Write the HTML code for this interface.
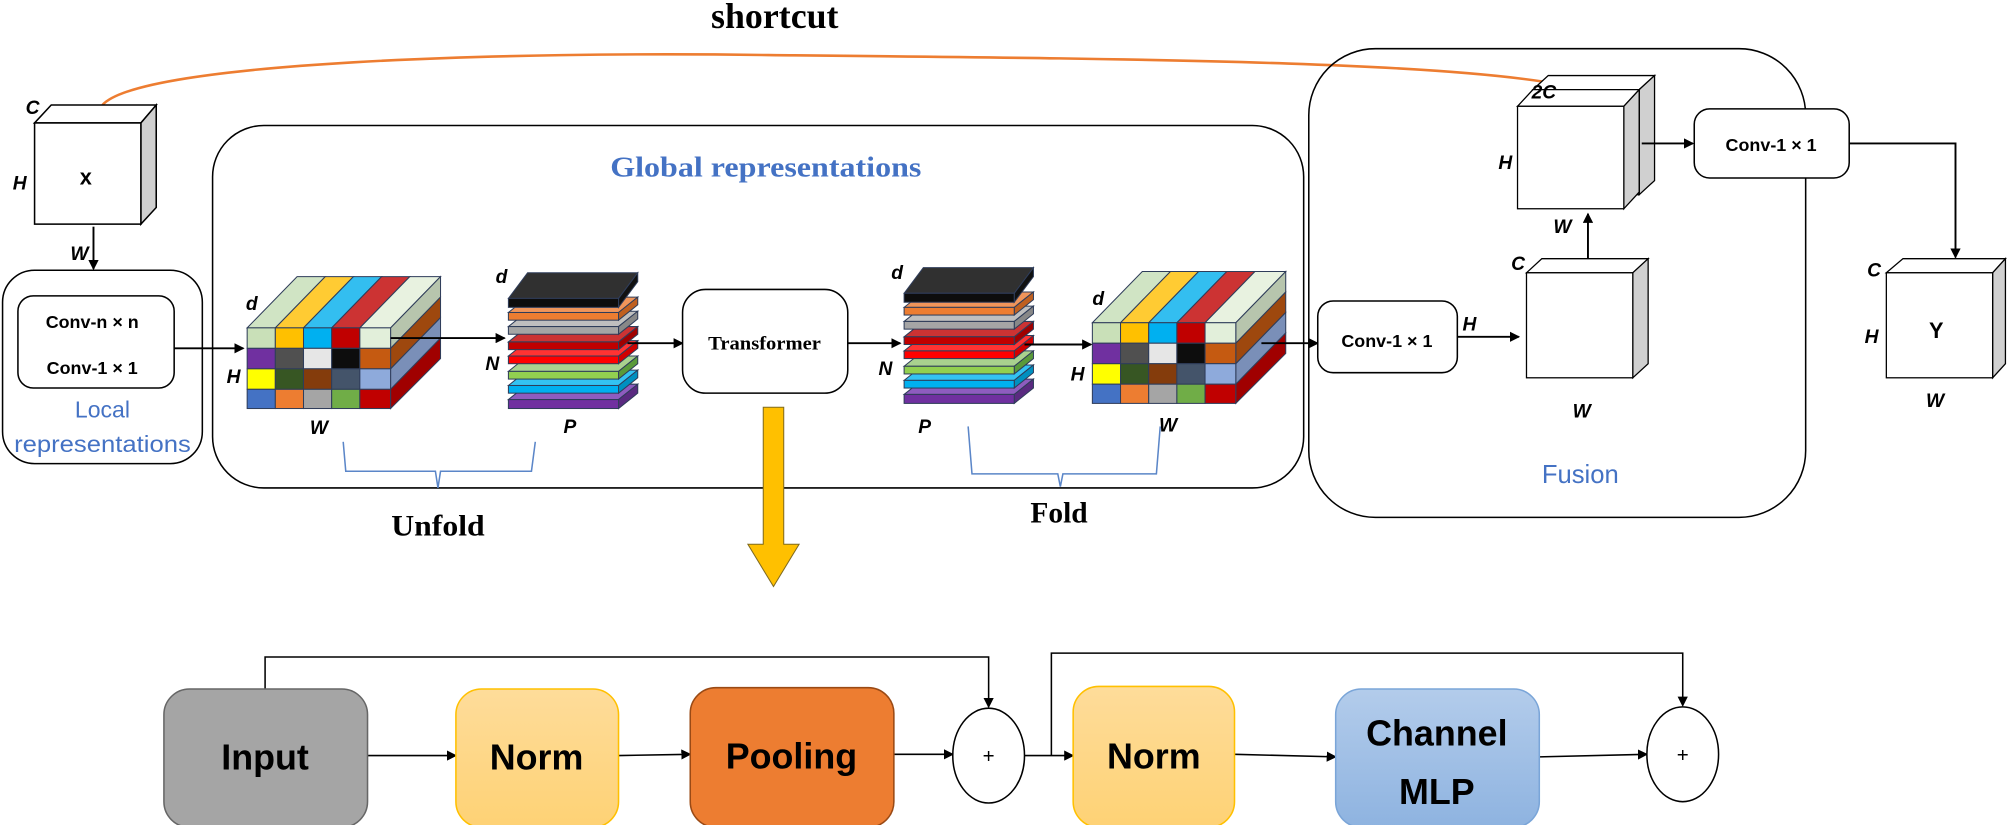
<!DOCTYPE html>
<html><head><meta charset="utf-8"><style>
html,body{margin:0;padding:0;background:#fff;width:2008px;height:825px;overflow:hidden}
svg{display:block}
.s{font-family:"Liberation Sans",sans-serif;font-weight:bold}
.i{font-family:"Liberation Sans",sans-serif;font-weight:bold;font-style:italic;font-size:15px}
.r{font-family:"Liberation Serif",serif;font-weight:bold}
</style></head><body>
<svg width="2008" height="825" viewBox="0 0 1568 644.2" xmlns="http://www.w3.org/2000/svg">
<defs>
<marker id="a" markerWidth="8" markerHeight="8" refX="7" refY="4" orient="auto" markerUnits="userSpaceOnUse"><path d="M0,0 L8,4 L0,8 z" fill="#000"/></marker>
<marker id="ao" markerWidth="10" markerHeight="10" refX="9" refY="5" orient="auto" markerUnits="userSpaceOnUse"><path d="M0,0 L10,5 L0,10 z" fill="#ed7d31"/></marker>
<linearGradient id="gy" x1="0" y1="0" x2="0" y2="1"><stop offset="0" stop-color="#fedc9a"/><stop offset="1" stop-color="#fed275"/></linearGradient>
<linearGradient id="gb" x1="0" y1="0" x2="0" y2="1"><stop offset="0" stop-color="#b3cceb"/><stop offset="1" stop-color="#8eb3e0"/></linearGradient>
</defs>

<text x="605" y="22" class="r" font-size="28" text-anchor="middle">shortcut</text>
<path d="M80,82 C110,48 400,40 600,43 C900,46 1150,48 1238,70" fill="none" stroke="#ed7d31" stroke-width="2" marker-end="url(#ao)"/>

<!-- X cube -->
<g stroke="#000" stroke-width="1.2">
<polygon points="27,96 40,82 122,82 110,96" fill="#fff"/>
<polygon points="110,96 122,82 122,162 110,175" fill="#d0d0d0"/>
<rect x="27" y="96" width="83" height="79" fill="#fff"/>
</g>
<text x="67" y="144" class="s" font-size="17" text-anchor="middle">x</text>
<text x="20" y="89" class="i">C</text>
<text x="10" y="148" class="i">H</text>
<text x="55" y="203" class="i">W</text>
<line x1="73" y1="177" x2="73" y2="210" stroke="#000" stroke-width="1.5" marker-end="url(#a)"/>

<!-- Local -->
<rect x="2" y="211" width="156" height="151" rx="25" fill="none" stroke="#000" stroke-width="1.2"/>
<rect x="14" y="231" width="122" height="72" rx="12" fill="none" stroke="#000" stroke-width="1.2"/>
<text x="72" y="256" class="s" font-size="14" text-anchor="middle">Conv-n × n</text>
<text x="72" y="292" class="s" font-size="14" text-anchor="middle">Conv-1 × 1</text>
<text x="80" y="326" font-family="Liberation Sans,sans-serif" font-size="18" fill="#4472c4" text-anchor="middle">Local</text>
<text x="80" y="353" font-family="Liberation Sans,sans-serif" font-size="18" fill="#4472c4" text-anchor="middle" textLength="138" lengthAdjust="spacingAndGlyphs">representations</text>
<line x1="136" y1="272" x2="190" y2="272" stroke="#000" stroke-width="1.5" marker-end="url(#a)"/>

<!-- Global -->
<rect x="166" y="98" width="852" height="283" rx="40" fill="none" stroke="#000" stroke-width="1.2"/>
<text x="598" y="138" class="r" font-size="22" fill="#4472c4" text-anchor="middle" textLength="243" lengthAdjust="spacingAndGlyphs">Global representations</text>

<g id="cube1" stroke="#2f3d5a" stroke-width="0.8">
<polygon points="193,256 232,216 254,216 215,256" fill="#d0e4c4"/>
<polygon points="215,256 254,216 276,216 237,256" fill="#ffcb33"/>
<polygon points="237,256 276,216 298,216 259,256" fill="#33bef0"/>
<polygon points="259,256 298,216 320,216 281,256" fill="#cc3333"/>
<polygon points="281,256 320,216 344,216 305,256" fill="#e8f2e0"/>
<polygon points="305,256 344,216 344,232 305,272" fill="#b7c5ad"/>
<polygon points="305,272 344,232 344,248 305,288" fill="#9e480e"/>
<polygon points="305,288 344,248 344,264 305,304" fill="#7a8fb8"/>
<polygon points="305,304 344,264 344,280 305,319" fill="#a00000"/>
<rect x="193" y="256" width="22" height="16" fill="#c9e0b8"/><rect x="215" y="256" width="22" height="16" fill="#ffc000"/><rect x="237" y="256" width="22" height="16" fill="#00b0f0"/><rect x="259" y="256" width="22" height="16" fill="#c00000"/><rect x="281" y="256" width="24" height="16" fill="#e2efda"/>
<rect x="193" y="272" width="22" height="16" fill="#7030a0"/><rect x="215" y="272" width="22" height="16" fill="#505050"/><rect x="237" y="272" width="22" height="16" fill="#e6e6e6"/><rect x="259" y="272" width="22" height="16" fill="#0d0d0d"/><rect x="281" y="272" width="24" height="16" fill="#c55a11"/>
<rect x="193" y="288" width="22" height="16" fill="#ffff00"/><rect x="215" y="288" width="22" height="16" fill="#375623"/><rect x="237" y="288" width="22" height="16" fill="#843c0c"/><rect x="259" y="288" width="22" height="16" fill="#44546a"/><rect x="281" y="288" width="24" height="16" fill="#8eaadb"/>
<rect x="193" y="304" width="22" height="15" fill="#4472c4"/><rect x="215" y="304" width="22" height="15" fill="#ed7d31"/><rect x="237" y="304" width="22" height="15" fill="#a5a5a5"/><rect x="259" y="304" width="22" height="15" fill="#70ad47"/><rect x="281" y="304" width="24" height="15" fill="#c00000"/>
</g>
<use href="#cube1" transform="translate(660,-4)"/>
<text x="192" y="242" class="i">d</text><text x="177" y="299" class="i">H</text><text x="242" y="339" class="i">W</text>
<text x="853" y="238" class="i">d</text><text x="836" y="297" class="i">H</text><text x="905" y="337" class="i">W</text>

<g id="stk" stroke="#2f3d5a" stroke-width="0.8">
<polygon points="397,312 412,300 498,300 483,312" fill="#8e5cbf"/><polygon points="483,312 498,300 498,307 483,319" fill="#5a2a80"/><rect x="397" y="312" width="86" height="7" fill="#7030a0"/>
<polygon points="397,301 412,289 498,289 483,301" fill="#33c3f3"/><polygon points="483,301 498,289 498,295 483,307" fill="#0090c0"/><rect x="397" y="301" width="86" height="6" fill="#00b0f0"/>
<polygon points="397,290 412,278 498,278 483,290" fill="#a9d18e"/><polygon points="483,290 498,278 498,284 483,296" fill="#5a9a3a"/><rect x="397" y="290" width="86" height="6" fill="#92d050"/>
<polygon points="397,278 412,266 498,266 483,278" fill="#ff3333"/><polygon points="483,278 498,266 498,272 483,284" fill="#d00000"/><rect x="397" y="278" width="86" height="6" fill="#ff0000"/>
<polygon points="397,267 412,255 498,255 483,267" fill="#cc3333"/><polygon points="483,267 498,255 498,261 483,273" fill="#a00000"/><rect x="397" y="267" width="86" height="6" fill="#c00000"/>
<polygon points="397,255 412,243 498,243 483,255" fill="#bfbfbf"/><polygon points="483,255 498,243 498,249 483,261" fill="#888"/><rect x="397" y="255" width="86" height="6" fill="#a5a5a5"/>
<polygon points="397,244 412,232 498,232 483,244" fill="#f0955a"/><polygon points="483,244 498,232 498,238 483,250" fill="#c06020"/><rect x="397" y="244" width="86" height="6" fill="#ed7d31"/>
<polygon points="397,233 412,213 498,213 483,233" fill="#303030"/><polygon points="483,233 498,213 498,220 483,240" fill="#111"/><rect x="397" y="233" width="86" height="7" fill="#0d0d0d"/>
</g>
<use href="#stk" transform="translate(309,-4)"/>
<text x="387" y="221" class="i">d</text><text x="379" y="289" class="i">N</text><text x="440" y="338" class="i">P</text>
<text x="696" y="218" class="i">d</text><text x="686" y="293" class="i">N</text><text x="717" y="338" class="i">P</text>

<g stroke="#000" stroke-width="1.5" fill="none">
<line x1="305" y1="264" x2="394" y2="264" marker-end="url(#a)"/>
<line x1="490" y1="268" x2="533" y2="268" marker-end="url(#a)"/>
<line x1="662" y1="268" x2="703" y2="268" marker-end="url(#a)"/>
<line x1="800" y1="269" x2="852" y2="269" marker-end="url(#a)"/>
<line x1="985" y1="268" x2="1029" y2="268" marker-end="url(#a)"/>
</g>
<rect x="533" y="226" width="129" height="81" rx="18" fill="#fff" stroke="#000" stroke-width="1.2"/>
<text x="597" y="273" class="r" font-size="15" text-anchor="middle" textLength="88" lengthAdjust="spacingAndGlyphs">Transformer</text>

<path d="M268,345 L270,368 L340,368 L342,381 L344,368 L415,368 L418,345" fill="none" stroke="#5b86c8" stroke-width="1.2"/>
<path d="M756,333 L759,370 L826,370 L828,380 L830,370 L903,370 L906,333" fill="none" stroke="#5b86c8" stroke-width="1.2"/>
<text x="342" y="418" class="r" font-size="23" text-anchor="middle" textLength="73" lengthAdjust="spacingAndGlyphs">Unfold</text>
<text x="827" y="408" class="r" font-size="23" text-anchor="middle">Fold</text>

<polygon points="596,318 612,318 612,425 624,425 604,458 584,425 596,425" fill="#ffc000" stroke="#7f6a20" stroke-width="0.8"/>

<!-- Fusion -->
<rect x="1022" y="38" width="388" height="366" rx="52" fill="none" stroke="#000" stroke-width="1.2"/>
<text x="1234" y="377" font-family="Liberation Sans,sans-serif" font-size="20" fill="#4472c4" text-anchor="middle">Fusion</text>
<rect x="1029" y="235" width="109" height="56" rx="12" fill="#fff" stroke="#000" stroke-width="1.2"/>
<text x="1083" y="271" class="s" font-size="14" text-anchor="middle">Conv-1 × 1</text>
<line x1="1138" y1="263" x2="1186" y2="263" stroke="#000" stroke-width="1.5" marker-end="url(#a)"/>
<text x="1142" y="258" class="i">H</text>
<g stroke="#000" stroke-width="1">
<polygon points="1192,213 1204,202 1287,202 1275,213" fill="#fff"/>
<polygon points="1275,213 1287,202 1287,284 1275,295" fill="#d0d0d0"/>
<rect x="1192" y="213" width="83" height="82" fill="#fff"/>
</g>
<text x="1180" y="211" class="i">C</text><text x="1228" y="326" class="i">W</text>
<line x1="1240" y1="202" x2="1240" y2="167" stroke="#000" stroke-width="1.5" marker-end="url(#a)"/>
<g stroke="#000" stroke-width="1">
<polygon points="1197,70 1209,59 1292,59 1280,70" fill="#fff"/>
<polygon points="1280,70 1292,59 1292,141 1280,152" fill="#d0d0d0"/>
<rect x="1197" y="70" width="83" height="82" fill="#fff"/>
<polygon points="1185,83 1197,70 1280,70 1268,83" fill="#fff"/>
<polygon points="1268,83 1280,70 1280,150 1268,163" fill="#d0d0d0"/>
<rect x="1185" y="83" width="83" height="80" fill="#fff"/>
</g>
<text x="1196" y="77" class="i">2C</text><text x="1170" y="132" class="i">H</text><text x="1213" y="182" class="i">W</text>
<line x1="1282" y1="112" x2="1322" y2="112" stroke="#000" stroke-width="1.5" marker-end="url(#a)"/>
<rect x="1323" y="85" width="121" height="54" rx="12" fill="#fff" stroke="#000" stroke-width="1.2"/>
<text x="1383" y="118" class="s" font-size="14" text-anchor="middle">Conv-1 × 1</text>
<polyline points="1444,112 1527,112 1527,201" fill="none" stroke="#000" stroke-width="1.5" marker-end="url(#a)"/>
<g stroke="#000" stroke-width="1">
<polygon points="1473,213 1486,202 1566,202 1556,213" fill="#fff"/>
<polygon points="1556,213 1566,202 1566,284 1556,295" fill="#d0d0d0"/>
<rect x="1473" y="213" width="83" height="82" fill="#fff"/>
</g>
<text x="1512" y="264" class="s" font-size="17" text-anchor="middle">Y</text>
<text x="1458" y="216" class="i">C</text><text x="1456" y="268" class="i">H</text><text x="1504" y="318" class="i">W</text>

<!-- bottom -->
<g fill="none" stroke="#000" stroke-width="1.2">
<polyline points="207,538 207,513 772,513 772,552" marker-end="url(#a)"/>
<polyline points="821,590 821,510 1314,510 1314,551" marker-end="url(#a)"/>
<line x1="287" y1="590" x2="356" y2="590" marker-end="url(#a)"/>
<line x1="483" y1="590" x2="539" y2="589" marker-end="url(#a)"/>
<line x1="698" y1="589" x2="744" y2="589" marker-end="url(#a)"/>
<line x1="800" y1="590" x2="838" y2="590" marker-end="url(#a)"/>
<line x1="964" y1="589" x2="1043" y2="591" marker-end="url(#a)"/>
<line x1="1202" y1="591" x2="1286" y2="589" marker-end="url(#a)"/>
</g>
<rect x="128" y="538" width="159" height="108" rx="20" fill="#a5a5a5" stroke="#666" stroke-width="1.2"/>
<rect x="356" y="538" width="127" height="108" rx="20" fill="url(#gy)" stroke="#ffc000" stroke-width="1.2"/>
<rect x="539" y="537" width="159" height="109" rx="20" fill="#ed7d31" stroke="#9a4a15" stroke-width="1.2"/>
<rect x="838" y="536" width="126" height="110" rx="20" fill="url(#gy)" stroke="#ffc000" stroke-width="1.2"/>
<rect x="1043" y="538" width="159" height="108" rx="20" fill="url(#gb)" stroke="#7aa5d8" stroke-width="1.2"/>
<ellipse cx="772" cy="590" rx="28" ry="37" fill="#fff" stroke="#000" stroke-width="1.2"/>
<ellipse cx="1314" cy="589" rx="28" ry="37" fill="#fff" stroke="#000" stroke-width="1.2"/>
<text x="772" y="596" font-family="Liberation Sans,sans-serif" font-size="16" text-anchor="middle">+</text>
<text x="1314" y="595" font-family="Liberation Sans,sans-serif" font-size="16" text-anchor="middle">+</text>
<text x="207" y="601" class="s" font-size="28" text-anchor="middle">Input</text>
<text x="419" y="601" class="s" font-size="28" text-anchor="middle">Norm</text>
<text x="618" y="600" class="s" font-size="28" text-anchor="middle">Pooling</text>
<text x="901" y="600" class="s" font-size="28" text-anchor="middle">Norm</text>
<text x="1122" y="582" class="s" font-size="28" text-anchor="middle">Channel</text>
<text x="1122" y="628" class="s" font-size="28" text-anchor="middle">MLP</text>
</svg>
</body></html>
